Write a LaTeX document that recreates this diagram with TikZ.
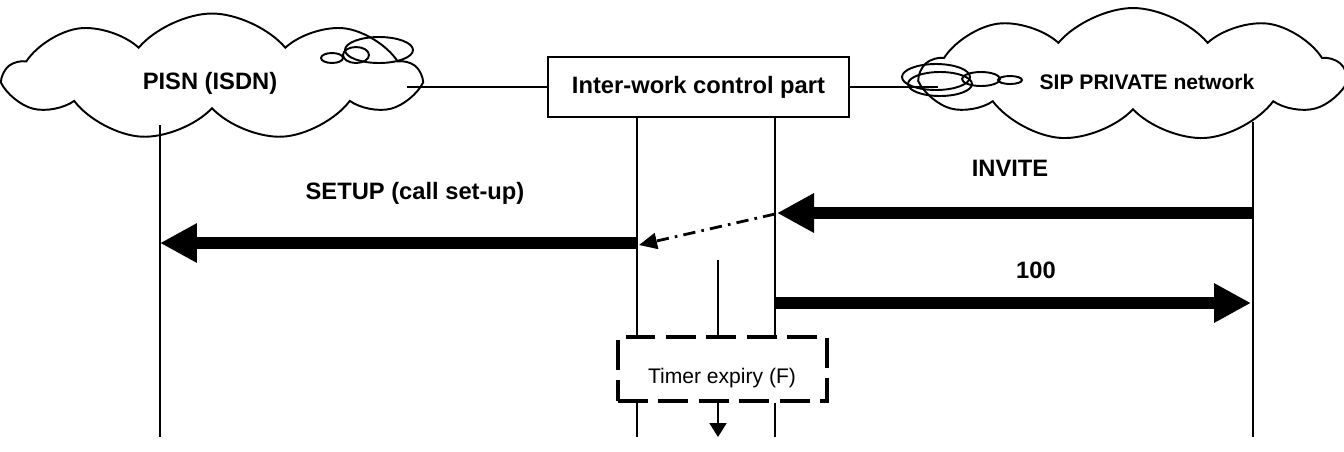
\documentclass[tikz,border=0pt]{standalone}
\usepackage{fontspec}
\setmainfont{Liberation Sans}
\usetikzlibrary{arrows.meta,shapes.symbols}
\tikzset{
  netcloud/.style={cloud, draw, line width=1.1pt, cloud puffs=9, cloud puff arc=100, inner sep=0pt},
  lbl/.style={font=\fontsize{13.5}{16}\bfseries\selectfont, inner sep=1pt},
  lifeline/.style={line width=1.1pt},
  msg/.style={line width=0.24cm, -{Triangle[length=0.74cm,width=0.74cm]}},
  bubble/.style={line width=1.1pt}
}
\begin{document}
\begin{tikzpicture}[x=0.02cm,y=-0.02cm]
	\useasboundingbox (0,0) rectangle (1344,451);
	% networks
	\node[netcloud, minimum width=8.26cm, minimum height=2.54cm] (pisn) at (212,77) {};
	\node[lbl] (pisnlbl) at (210,83) {PISN (ISDN)};
	\draw[bubble] (332,58) ellipse (11 and 5);
	\draw[bubble] (356,55) ellipse (13 and 8);
	\draw[bubble] (379,50) ellipse (34 and 13);
	\node[netcloud, minimum width=8.42cm, minimum height=2.68cm] (sipnet) at (1133,75) {};
	\node[lbl, font=\fontsize{12}{14}\bfseries\selectfont] (siplbl) at (1147,82) {SIP PRIVATE network};
	\draw[bubble] (936,77) ellipse (34 and 13);
	\draw[bubble] (940,84) ellipse (32 and 12);
	\draw[bubble] (981,79) ellipse (19 and 7);
	\draw[bubble] (1010,80) ellipse (12 and 4);
	% inter-work box
	\node[draw, line width=1.1pt, lbl, minimum width=6.02cm, minimum height=1.2cm] (iwcp) at (698.5,87) {Inter-work control part};
	\coordinate (pisnend) at (407,87);
	\coordinate (sipend) at (938,87);
	\draw[line width=1.1pt] (pisnend) -- (iwcp.west);
	\draw[line width=1.1pt] (iwcp.east) -- (sipend);
	% lifelines
	\coordinate (pisntop) at (160,125);
	\coordinate (pisnbot) at (160,437);
	\coordinate (siptop) at (1253,122);
	\coordinate (sipbot) at (1253,437);
	\draw[lifeline] (pisntop) -- (pisnbot);
	\draw[lifeline] (siptop) -- (sipbot);
	\node[draw, line width=1.8pt, dash pattern=on 17pt off 6pt,
	      minimum width=4.18cm, minimum height=1.28cm] (timer) at (722.5,369) {};
	\node[font=\fontsize{12}{14}\selectfont, inner sep=0pt] (timerlbl) at (722,378) {Timer expiry (F)};
	\coordinate (iwleftbot) at (637,437);
	\coordinate (iwrightbot) at (775,437);
	\draw[lifeline] (iwcp.south -| iwleftbot) -- (timer.north -| iwleftbot);
	\draw[lifeline] (timer.south -| iwleftbot) -- (iwleftbot);
	\draw[lifeline] (iwcp.south -| iwrightbot) -- (timer.north -| iwrightbot);
	\draw[lifeline] (timer.south -| iwrightbot) -- (iwrightbot);
	\coordinate (timerstart) at (718,260);
	\coordinate (timerend) at (718,437);
	\draw[lifeline] (timerstart) -- (timer.north -| timerstart);
	\draw[lifeline, -{Triangle[length=0.28cm,width=0.34cm]}] (timer.south -| timerstart) -- (timerend);
	% messages
	\coordinate (invfrom) at (1253,213);
	\coordinate (invto) at (777,213);
	\draw[msg] (invfrom) -- (invto);
	\node[lbl] (invlbl) at (1010,168) {INVITE};
	\coordinate (relayfrom) at (775,214);
	\coordinate (relayto) at (639,245);
	\draw[line width=1.6pt, dash pattern=on 7pt off 3.5pt on 1.5pt off 3.5pt,
	      -{Triangle[length=0.36cm,width=0.32cm]}] (relayfrom) -- (relayto);
	\coordinate (setupfrom) at (637,243);
	\coordinate (setupto) at (160,243);
	\draw[msg] (setupfrom) -- (setupto);
	\node[lbl] (setuplbl) at (415,193) {SETUP (call set-up)};
	\coordinate (tryfrom) at (775,303);
	\coordinate (tryto) at (1251,303);
	\draw[msg] (tryfrom) -- (tryto);
	\node[lbl] (trylbl) at (1036,270) {100};
\end{tikzpicture}
\end{document}
